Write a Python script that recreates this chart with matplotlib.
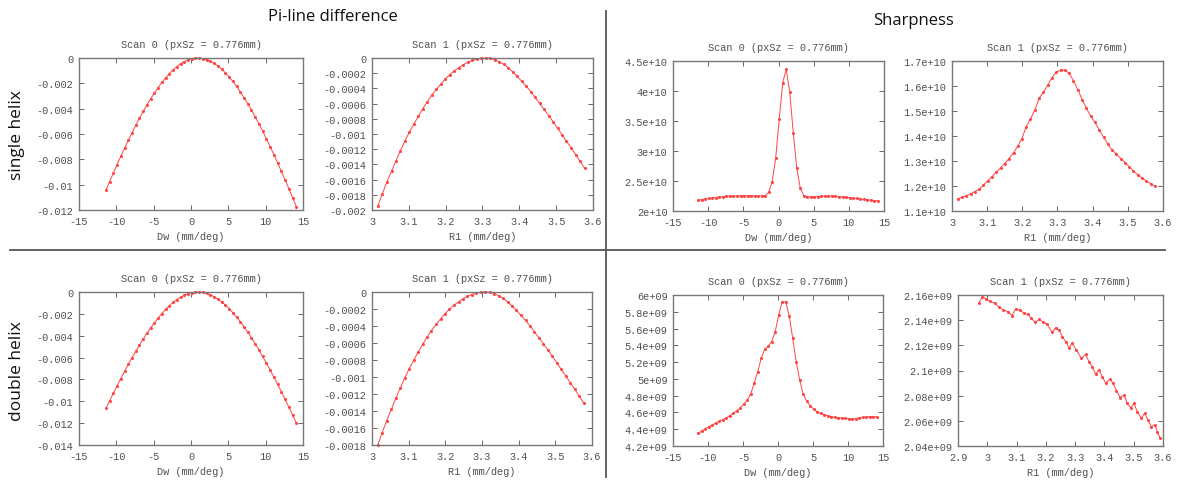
import matplotlib
matplotlib.use("Agg")
import matplotlib.pyplot as plt
from matplotlib.ticker import MultipleLocator, FuncFormatter

# ---------------- data ----------------
dw_x = [-11.4, -10.9, -10.4, -9.9, -9.4, -8.9, -8.4, -7.9, -7.4, -6.9, -6.4, -5.9, -5.4,
        -4.9, -4.4, -3.9, -3.4, -2.9, -2.4, -1.9, -1.4, -0.9, -0.4, 0.1, 0.6, 1.1, 1.6,
        2.1, 2.6, 3.1, 3.6, 4.1, 4.6, 5.1, 5.6, 6.1, 6.6, 7.1, 7.6, 8.1, 8.6, 9.1, 9.6,
        10.1, 10.6, 11.1, 11.6, 12.1, 12.6, 13.1, 13.6, 14.1]

r1_x = [3.016, 3.028, 3.040, 3.053, 3.065, 3.077, 3.089, 3.101, 3.114, 3.126, 3.138, 3.150,
        3.162, 3.175, 3.187, 3.199, 3.211, 3.223, 3.236, 3.248, 3.260, 3.272, 3.284, 3.297,
        3.309, 3.321, 3.333, 3.345, 3.358, 3.370, 3.382, 3.394, 3.406, 3.419, 3.431, 3.443,
        3.455, 3.467, 3.480, 3.492, 3.504, 3.516, 3.528, 3.541, 3.553, 3.565, 3.577]

# single helix, Pi-line difference, scan 0 (Dw)
sh_pi_dw = [-0.01045, -0.00976, -0.00908, -0.00841, -0.00776, -0.00712, -0.00650, -0.00590,
            -0.00532, -0.00476, -0.00422, -0.00370, -0.00322, -0.00276, -0.00233, -0.00193,
            -0.00156, -0.00123, -0.00093, -0.00068, -0.00046, -0.00028, -0.00015, -0.000056,
            -0.000008, -0.0000035, -0.000043, -0.000126, -0.000252, -0.00042, -0.00063,
            -0.00088, -0.00117, -0.00149, -0.00185, -0.00224, -0.00267, -0.00312, -0.00360,
            -0.00411, -0.00465, -0.00520, -0.00578, -0.00638, -0.00699, -0.00763, -0.00828,
            -0.00894, -0.00962, -0.01031, -0.01102, -0.01173]

# single helix, Pi-line difference, scan 1 (R1)
sh_pi_r1 = [-0.001945, -0.001787, -0.001635, -0.001491, -0.001353, -0.001221, -0.001097,
            -0.000979, -0.000868, -0.000763, -0.000666, -0.000575, -0.000490, -0.000412,
            -0.000342, -0.000277, -0.000220, -0.000169, -0.000125, -0.000087, -0.000056,
            -0.000032, -0.000015, -0.000004, 0.0, -0.0000047, -0.0000208, -0.0000475,
            -0.0000841, -0.000129, -0.000182, -0.000240, -0.000304, -0.000372, -0.000444,
            -0.000519, -0.000597, -0.000676, -0.000758, -0.000841, -0.000925, -0.001010,
            -0.001096, -0.001184, -0.001271, -0.001360, -0.001449]

# single helix, Sharpness, scan 0 (Dw), in 1e10
sh_sh_dw = [2.18, 2.19, 2.20, 2.21, 2.215, 2.225, 2.235, 2.24, 2.245, 2.25, 2.25, 2.252,
            2.255, 2.255, 2.255, 2.255, 2.252, 2.25, 2.25, 2.255, 2.31, 2.49, 2.88, 3.53,
            4.14, 4.36, 3.98, 3.30, 2.71, 2.38, 2.255, 2.235, 2.235, 2.24, 2.24, 2.245,
            2.25, 2.25, 2.25, 2.245, 2.24, 2.235, 2.23, 2.225, 2.215, 2.21, 2.20, 2.195,
            2.19, 2.18, 2.175, 2.17]

# single helix, Sharpness, scan 1 (R1), in 1e10
sh_sh_r1 = [1.148, 1.155, 1.161, 1.169, 1.178, 1.187, 1.203, 1.220, 1.238, 1.255, 1.272,
            1.290, 1.310, 1.333, 1.360, 1.390, 1.437, 1.468, 1.505, 1.552, 1.575, 1.603,
            1.633, 1.656, 1.664, 1.664, 1.651, 1.622, 1.585, 1.546, 1.512, 1.480, 1.456,
            1.424, 1.395, 1.368, 1.344, 1.328, 1.310, 1.294, 1.277, 1.260, 1.245, 1.232,
            1.220, 1.209, 1.199]

# double helix, Pi-line difference, scan 0 (Dw)
dh_pi_dw = [-0.01066, -0.00996, -0.00926, -0.00858, -0.00792, -0.00726, -0.00663, -0.00602,
            -0.00543, -0.00486, -0.00430, -0.00377, -0.00328, -0.00282, -0.00238, -0.00197,
            -0.00159, -0.00125, -0.00095, -0.00069, -0.00047, -0.00029, -0.00015, -0.000057,
            -0.000008, -0.0000036, -0.000044, -0.000129, -0.000257, -0.00043, -0.00064,
            -0.00090, -0.00119, -0.00152, -0.00189, -0.00228, -0.00272, -0.00318, -0.00367,
            -0.00419, -0.00474, -0.00530, -0.00590, -0.00651, -0.00713, -0.00778, -0.00845,
            -0.00912, -0.00981, -0.01052, -0.01124, -0.01197]

# double helix, Pi-line difference, scan 1 (R1)
dh_pi_r1 = [-0.001799, -0.001653, -0.001512, -0.001379, -0.001252, -0.001129, -0.001015,
            -0.000906, -0.000803, -0.000706, -0.000616, -0.000532, -0.000453, -0.000381,
            -0.000316, -0.000256, -0.000204, -0.000156, -0.000116, -0.000080, -0.000052,
            -0.000030, -0.000014, -0.000004, 0.0, -0.0000042, -0.0000187, -0.0000428,
            -0.0000757, -0.000116, -0.000164, -0.000216, -0.000274, -0.000335, -0.000400,
            -0.000467, -0.000537, -0.000608, -0.000682, -0.000757, -0.000833, -0.000909,
            -0.000986, -0.001066, -0.001144, -0.001224, -0.001304]

# double helix, Sharpness, scan 0 (Dw), in 1e9
dh_sh_dw = [4.35, 4.38, 4.405, 4.43, 4.45, 4.475, 4.495, 4.515, 4.535, 4.56, 4.59, 4.62,
            4.655, 4.70, 4.745, 4.82, 4.947, 5.086, 5.245, 5.352, 5.392, 5.444, 5.563,
            5.762, 5.92, 5.92, 5.754, 5.483, 5.205, 4.987, 4.816, 4.736, 4.68, 4.637,
            4.609, 4.589, 4.575, 4.561, 4.55, 4.542, 4.538, 4.535, 4.53, 4.525, 4.522,
            4.527, 4.535, 4.54, 4.545, 4.55, 4.55, 4.548]

# double helix, Sharpness, scan 1 (R1), in 1e9
dh_sh_r1_x = [2.971, 2.983, 2.997, 3.010, 3.025, 3.039, 3.054, 3.071, 3.084, 3.097, 3.111,
              3.125, 3.139, 3.150, 3.164, 3.177, 3.190, 3.205, 3.221, 3.233, 3.245, 3.256,
              3.268, 3.279, 3.290, 3.304, 3.321, 3.336, 3.347, 3.359, 3.370, 3.381, 3.393,
              3.404, 3.418, 3.429, 3.441, 3.454, 3.467, 3.478, 3.490, 3.501, 3.512, 3.526,
              3.537, 3.549, 3.560, 3.572, 3.581, 3.589]
dh_sh_r1 = [2.1534, 2.1587, 2.1568, 2.1552, 2.1534, 2.1507, 2.1481, 2.1468, 2.1436, 2.1489,
            2.1481, 2.1454, 2.1446, 2.1415, 2.1383, 2.1407, 2.1388, 2.1367, 2.1303, 2.1340,
            2.1322, 2.1269, 2.1229, 2.1181, 2.1216, 2.1163, 2.1097, 2.1128, 2.1070, 2.1030,
            2.0970, 2.1004, 2.0951, 2.0900, 2.0930, 2.0900, 2.0840, 2.0785, 2.0805, 2.0739,
            2.0705, 2.0739, 2.0673, 2.0620, 2.0660, 2.0607, 2.0554, 2.0567, 2.0514, 2.0466]

scan_titles = ["Scan 0 (pxSz = 0.776mm)", "Scan 1 (pxSz = 0.776mm)"]
xlabels = ["Dw (mm/deg)", "R1 (mm/deg)"]
section_titles = ["Pi-line difference", "Sharpness"]
row_labels = ["single helix", "double helix"]

# ---------------- figure ----------------
W, H = 1182, 481
fig = plt.figure(figsize=(W / 100, H / 100), dpi=100)
fig.patch.set_facecolor("white")

MONO = ["Liberation Mono", "DejaVu Sans Mono"]
TXT = "#505050"
LINE = "#ff4444"


def px_axes(x0, y0, x1, y1):
    return fig.add_axes([x0 / W, 1 - y1 / H, (x1 - x0) / W, (y1 - y0) / H])


def fmt(v, pos):
    if abs(v) < 1e-12:
        return "0"
    if abs(v) < 1e3:
        v = round(v, 8)
    return "%g" % v


def panel(rect, x, y, scale, xlim, xstep, ylim, ystep, title, xlabel):
    ax = px_axes(*rect)
    ax.plot(x, [v * scale for v in y], color=LINE, lw=0.7, marker="o", ms=1.2,
            mec=LINE, mfc=LINE, clip_on=False)
    ax.set_xlim(*xlim)
    ax.set_ylim(*ylim)
    ax.xaxis.set_major_locator(MultipleLocator(xstep))
    ax.yaxis.set_major_locator(MultipleLocator(ystep))
    ax.xaxis.set_major_formatter(FuncFormatter(fmt))
    ax.yaxis.set_major_formatter(FuncFormatter(fmt))
    ax.tick_params(direction="in", top=True, right=True, length=3.5, width=0.7,
                   color="#666666", labelcolor=TXT, labelsize=7.4, pad=4)
    for lab in ax.get_xticklabels() + ax.get_yticklabels():
        lab.set_family(MONO)
    for s in ax.spines.values():
        s.set_color("#777777")
        s.set_linewidth(1.0)
    ax.set_title(title, fontsize=7.4, family=MONO, color=TXT, pad=8)
    ax.set_xlabel(xlabel, fontsize=7.4, family=MONO, color=TXT, labelpad=4)
    return ax


# top row (single helix)
panel((79, 59, 303, 211), dw_x, sh_pi_dw, 1.0, (-15, 15), 5, (-0.012, 0), 0.002,
      scan_titles[0], xlabels[0])
panel((372, 59, 593, 211), r1_x, sh_pi_r1, 1.0, (3.0, 3.6), 0.1, (-0.002, 0), 0.0002,
      scan_titles[1], xlabels[1])
panel((673, 62, 884, 212), dw_x, sh_sh_dw, 1e10, (-15, 15), 5, (2e10, 4.5e10), 5e9,
      scan_titles[0], xlabels[0])
panel((952, 62, 1163, 212), r1_x, sh_sh_r1, 1e10, (3.0, 3.6), 0.1, (1.1e10, 1.7e10), 1e9,
      scan_titles[1], xlabels[1])

# bottom row (double helix)
panel((79, 293, 303, 446), dw_x, dh_pi_dw, 1.0, (-15, 15), 5, (-0.014, 0), 0.002,
      scan_titles[0], xlabels[0])
panel((372, 293, 592, 446), r1_x, dh_pi_r1, 1.0, (3.0, 3.6), 0.1, (-0.0018, 0), 0.0002,
      scan_titles[1], xlabels[1])
panel((673, 296, 883, 447), dw_x, dh_sh_dw, 1e9, (-15, 15), 5, (4.2e9, 6e9), 2e8,
      scan_titles[0], xlabels[0])
panel((958, 296, 1163, 447), dh_sh_r1_x, dh_sh_r1, 1e9, (2.9, 3.6), 0.1, (2.04e9, 2.16e9),
      2e7, scan_titles[1], xlabels[1])

# section titles and row labels
SANS = ["Open Sans", "DejaVu Sans"]
fig.text(333 / W, 1 - 17 / H, section_titles[0], ha="center", va="center",
         fontsize=12, family=SANS, color="#111111")
fig.text(914 / W, 1 - 21 / H, section_titles[1], ha="center", va="center",
         fontsize=12, family=SANS, color="#111111")
fig.text(17 / W, 1 - 135 / H, row_labels[0], ha="center", va="center", rotation=90,
         fontsize=12.5, family=SANS, color="#111111")
fig.text(17 / W, 1 - 371 / H, row_labels[1], ha="center", va="center", rotation=90,
         fontsize=12.5, family=SANS, color="#111111")

# separator lines
fig.add_artist(plt.Line2D([10 / W, 1165 / W], [1 - 250.5 / H, 1 - 250.5 / H],
                          color="#555555", lw=1.3))
fig.add_artist(plt.Line2D([606 / W, 606 / W], [1 - 12 / H, 1 - 478 / H],
                          color="#555555", lw=1.3))

fig.savefig("out.png", dpi=100, facecolor="white")
